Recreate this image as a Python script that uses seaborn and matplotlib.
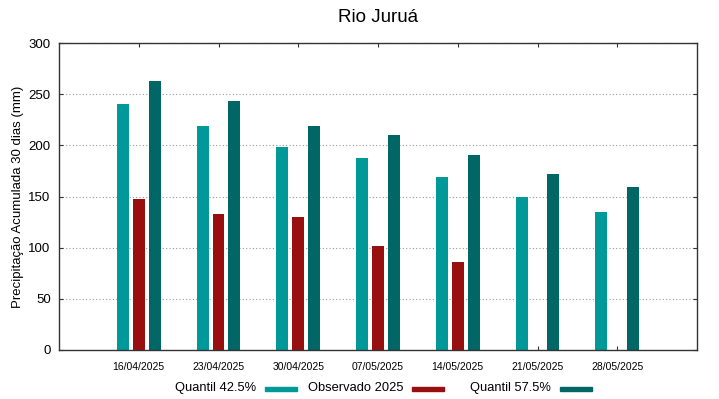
import numpy as np
import pandas as pd
import matplotlib
matplotlib.use('Agg')
import matplotlib.pyplot as plt
import seaborn as sns
from matplotlib.patches import Rectangle

# values
datas = ['16/04/2025', '23/04/2025', '30/04/2025', '07/05/2025',
         '14/05/2025', '21/05/2025', '28/05/2025']
q425 = [240, 219, 198, 188, 169, 150, 135]
obs2025 = [148, 133, 130, 102, 86, np.nan, np.nan]
q575 = [263, 243, 219, 210, 191, 172, 159]

series = ['Quantil 42.5%', 'Observado 2025', 'Quantil 57.5%']
cores = ['#009999', '#990f0f', '#006666']

# long format for seaborn
df = pd.DataFrame({
    'data': datas * 3,
    'valor': q425 + obs2025 + q575,
    'serie': [series[0]] * 7 + [series[1]] * 7 + [series[2]] * 7,
})

sns.set_style('white')
plt.rcParams['font.family'] = ['Liberation Sans', 'DejaVu Sans']
plt.rcParams['text.color'] = 'black'
plt.rcParams['axes.labelcolor'] = 'black'
plt.rcParams['xtick.color'] = 'black'
plt.rcParams['ytick.color'] = 'black'

fig = plt.figure(figsize=(7.19, 3.99), dpi=100)
ax = fig.add_axes([59 / 719, 49 / 399, 638 / 719, 307 / 399])

sns.barplot(data=df, x='data', y='valor', hue='serie', hue_order=series,
            palette=cores, width=0.6, gap=0.25, linewidth=0, saturation=1,
            legend=False, ax=ax, zorder=2)

ax.set_xlim(-1, 7)
ax.set_ylim(0, 300)
ax.set_yticks(range(0, 301, 50))

# dotted horizontal grid behind the bars
ax.yaxis.grid(True, linestyle=(0, (1, 2)), color='#999999', linewidth=0.8, zorder=0)
ax.xaxis.grid(False)
ax.set_axisbelow(True)

for s in ax.spines.values():
    s.set_color('#333333')
    s.set_linewidth(1)

ax.tick_params(axis='both', direction='in', length=3, width=0.8, color='#333333',
               top=True, right=True, bottom=True, left=True)
ax.tick_params(axis='y', labelsize=9.5, pad=6)
ax.tick_params(axis='x', labelsize=7.5, pad=9)

ax.set_xlabel('')
ax.set_ylabel('Precipitação Acumulada 30 dias (mm)', fontsize=9.5, labelpad=3.5)
ax.set_title('Rio Juruá', fontsize=13.5, pad=15, color='black')

# gnuplot-like key: right-justified text followed by the sample box
fim_texto = [256, 403, 551]
for nome, cor, xt in zip(series, cores, fim_texto):
    fig.text(xt / 719, (399 - 388) / 399, nome, ha='right', va='center', fontsize=9.3)
    fig.patches.append(Rectangle(((xt + 9) / 719, (399 - 391) / 399), 32 / 719, 4 / 399,
                                 transform=fig.transFigure, color=cor, figure=fig))

fig.savefig('out.png', dpi=100)
